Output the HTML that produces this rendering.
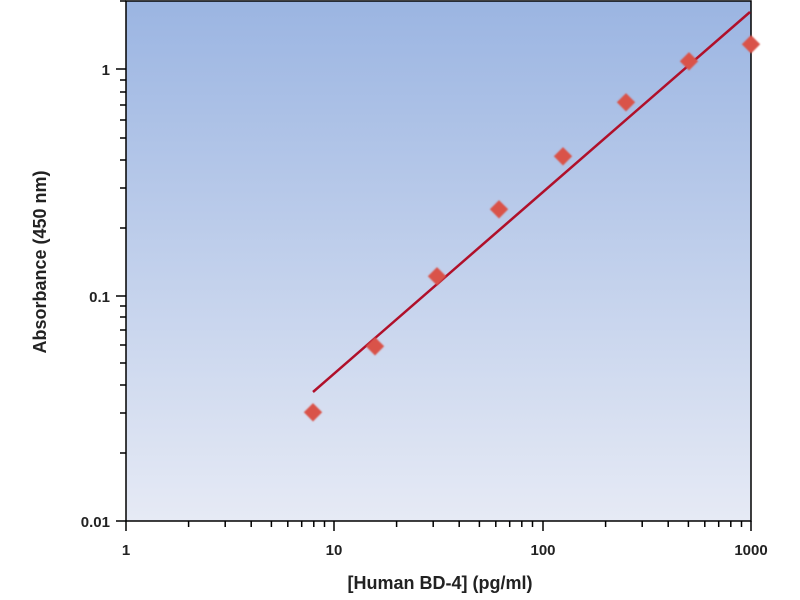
<!DOCTYPE html>
<html><head><style>body{margin:0;background:#fff}svg{display:block}</style></head><body>
<svg width="800" height="600" xmlns="http://www.w3.org/2000/svg" font-family="Liberation Sans, sans-serif">
<defs><linearGradient id="g" x1="0" y1="0" x2="0" y2="1"><stop offset="0" stop-color="#9bb5e2"/><stop offset="1" stop-color="#e6eaf5"/></linearGradient>
<filter id="b"><feGaussianBlur stdDeviation="0.8"/></filter></defs>
<rect x="126" y="1" width="625" height="520" fill="url(#g)" stroke="#000" stroke-width="1.5"/>
<g stroke="#000" stroke-width="1.5" id="ticks"></g>
<line x1="313" y1="392" x2="750" y2="12" stroke="#b0102a" stroke-width="2.5"/>
<g fill="#d9534a" filter="url(#b)">
<rect x="306" y="406" width="13" height="13" transform="rotate(45 313 413)"/>
<rect x="368" y="340" width="13" height="13" transform="rotate(45 375 347)"/>
<rect x="430" y="270" width="13" height="13" transform="rotate(45 437 277)"/>
<rect x="492" y="203" width="13" height="13" transform="rotate(45 499 210)"/>
<rect x="556" y="150" width="13" height="13" transform="rotate(45 563 157)"/>
<rect x="619" y="96" width="13" height="13" transform="rotate(45 626 103)"/>
<rect x="682" y="55" width="13" height="13" transform="rotate(45 689 62)"/>
<rect x="744" y="38" width="13" height="13" transform="rotate(45 751 45)"/>
</g>
<g font-size="15" font-weight="bold" fill="#222">
<text x="126" y="555" text-anchor="middle">1</text>
<text x="334" y="555" text-anchor="middle">10</text>
<text x="543" y="555" text-anchor="middle">100</text>
<text x="751" y="555" text-anchor="middle">1000</text>
<text x="110" y="75" text-anchor="end">1</text>
<text x="110" y="302" text-anchor="end">0.1</text>
<text x="110" y="527" text-anchor="end">0.01</text>
<text x="440" y="589" text-anchor="middle" font-size="18">[Human BD-4] (pg/ml)</text>
<text transform="translate(46 262) rotate(-90)" text-anchor="middle" font-size="18">Absorbance (450 nm)</text>
</g>
<g stroke="#000" stroke-width="1.5">
<path d="M126 521v10M334 521v10M543 521v10M751 521v10M126 69h-10M126 296h-10M126 521h-10"/>
<path d="M188.6 521v6M225.2 521v6M251.2 521v6M271.4 521v6M287.8 521v6M301.7 521v6M313.8 521v6M324.5 521v6
M396.6 521v6M433.2 521v6M459.2 521v6M479.4 521v6M495.8 521v6M509.7 521v6M521.8 521v6M532.5 521v6
M605.6 521v6M642.2 521v6M668.2 521v6M688.4 521v6M704.8 521v6M718.7 521v6M730.8 521v6M741.5 521v6
M126 453h-6M126 413h-6M126 385h-6M126 363h-6M126 345h-6M126 330h-6M126 317h-6M126 306h-6
M126 228h-6M126 188h-6M126 160h-6M126 138h-6M126 120h-6M126 105h-6M126 92h-6M126 80h-6
M126 1h-6"/>
</g>
</svg>
</body></html>
